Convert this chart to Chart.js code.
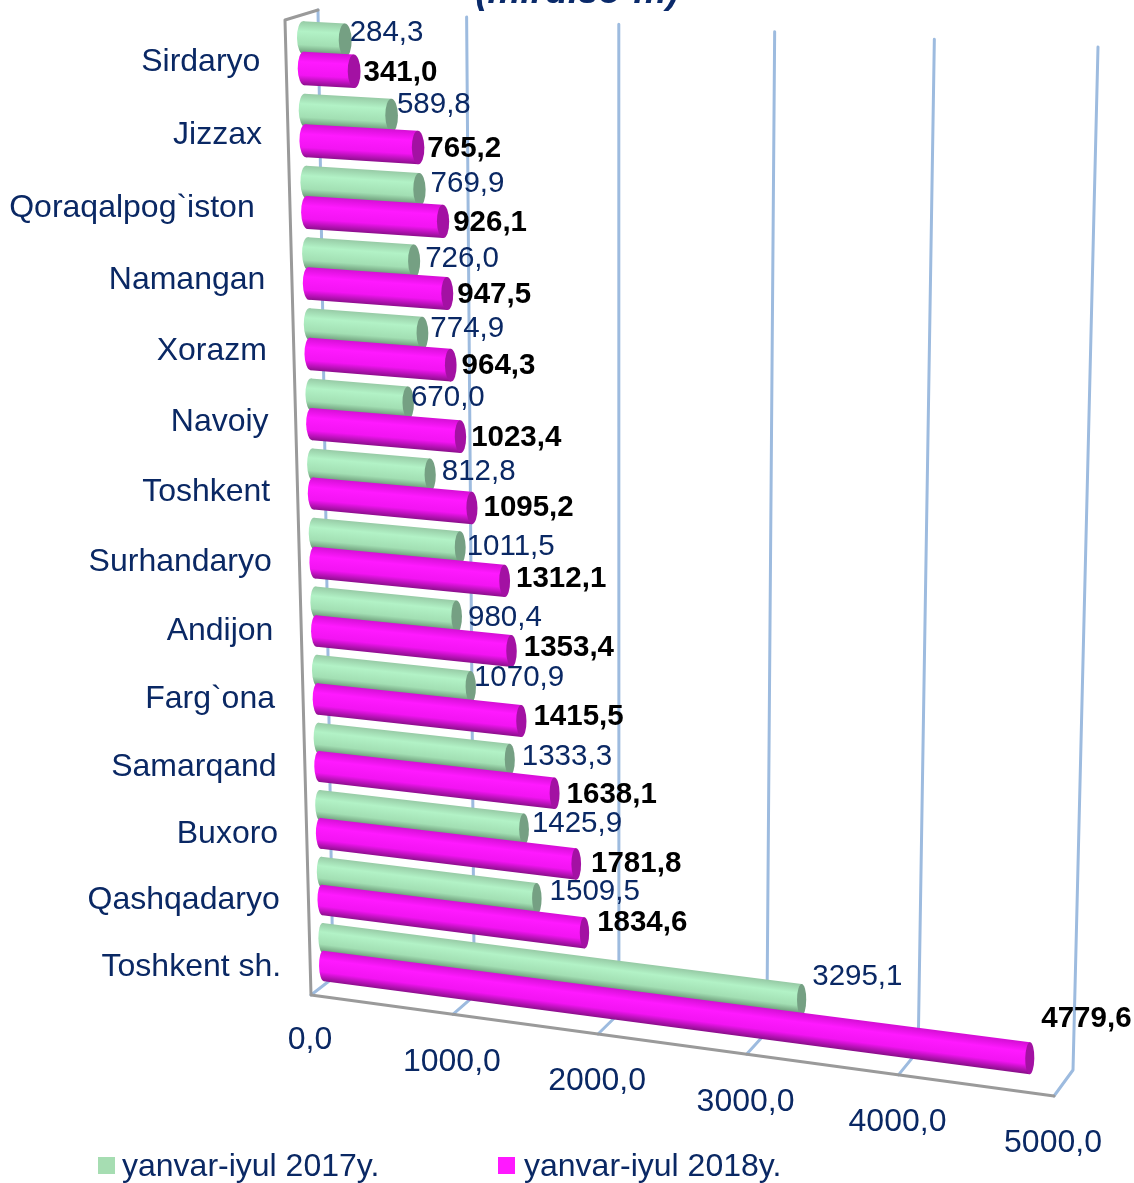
<!DOCTYPE html>
<html><head><meta charset="utf-8">
<style>html,body{margin:0;padding:0;background:#fff}canvas{display:block}</style>
<script src="https://cdn.jsdelivr.net/npm/chart.js@4"></script>
</head><body>
<canvas id="c" width="1134" height="1183"></canvas>
<script>
const categories = ["Sirdaryo","Jizzax","Qoraqalpog`iston","Namangan","Xorazm","Navoiy","Toshkent","Surhandaryo","Andijon","Farg`ona","Samarqand","Buxoro","Qashqadaryo","Toshkent sh."];
const values2017 = [284.3,589.8,769.9,726.0,774.9,670.0,812.8,1011.5,980.4,1070.9,1333.3,1425.9,1509.5,3295.1];
const values2018 = [341.0,765.2,926.1,947.5,964.3,1023.4,1095.2,1312.1,1353.4,1415.5,1638.1,1781.8,1834.6,4779.6];
const seriesNames = ["yanvar-iyul 2017y.","yanvar-iyul 2018y."];
const titleText = "(mlrd.so`m)";

/* layout only: perspective planes (unit square -> screen quad: TL, TR, BR, BL) */
const barPlane  = [[303,17],[1084,56],[1064,1083],[324,985]];
const wallPlane = [[318,10],[1098,47],[1073,1070],[333,978]];
const frontLeft = [311,995], frontRight = [1054,1096];
/* layout only: small hand placement of text next to each bar end */
const nudge2017 = [[-3,1],[-2,-3],[4,2],[4,6],[1,4],[-4,3],[5,5],[0,7],[5,9],[-3,-1],[6,5],[2,3],[7,1],[5,-15]];
const nudge2018 = [[-2,-1],[-2,-2],[-1,-2],[-1,-2],[0,-2],[0,-2],[1,-3],[1,-5],[2,-6],[2,-7],[2,-1],[5,-3],[3,-13],[2,-42]];
const categoryNudge = {2:-9};

const NAVY = "#0A2864", GRID = "#9DBBDF", FRAME = "#9A9A9A";
const FONT = '"Liberation Sans", Arial, sans-serif';
const gradGreen = [[0,"#97cba6"],[.3,"#b2f2c6"],[.7,"#a2dfb3"],[1,"#5f8b6b"]];
const gradPink  = [[0,"#d60fd6"],[.3,"#ff19ff"],[.7,"#f214f2"],[1,"#8c0f8c"]];
const capColors = ["#75a083","#a311a3"];

function homography(q){
  const [[x0,y0],[x1,y1],[x2,y2],[x3,y3]] = q;
  const dx1=x1-x2,dx2=x3-x2,dx3=x0-x1+x2-x3,dy1=y1-y2,dy2=y3-y2,dy3=y0-y1+y2-y3;
  const den=dx1*dy2-dx2*dy1, g=(dx3*dy2-dx2*dy3)/den, h=(dx1*dy3-dx3*dy1)/den;
  const a=x1-x0+g*x1,b=x3-x0+h*x3,d=y1-y0+g*y1,e=y3-y0+h*y3;
  return (u,v)=>{const w=g*u+h*v+1;return [(a*u+b*v+x0)/w,(d*u+e*v+y0)/w];};
}
const HB=homography(barPlane),HW=homography(wallPlane);
const fmt=v=>v.toFixed(1).replace(".",",");
function frontPoint(u){
  const q=HW(u,1),s=(q[0]-wallPlane[3][0])/(wallPlane[2][0]-wallPlane[3][0]);
  return [frontLeft[0]+s*(frontRight[0]-frontLeft[0]),frontLeft[1]+s*(frontRight[1]-frontLeft[1])];
}

function drawCylinder(ctx,chart,bar,grad,cap){
  const A=chart.chartArea, U=x=>(x-A.left)/A.width, V=y=>(y-A.top)/A.height;
  const y0=bar.y-bar.height/2,y1=bar.y+bar.height/2;
  const a=HB(U(bar.base),V(y0)),b=HB(U(bar.x),V(y0)),c=HB(U(bar.x),V(y1)),d=HB(U(bar.base),V(y1));
  const sm=[(a[0]+d[0])/2,(a[1]+d[1])/2],em=[(b[0]+c[0])/2,(b[1]+c[1])/2];
  const r=Math.hypot(c[0]-b[0],c[1]-b[1])/2, rs=Math.hypot(d[0]-a[0],d[1]-a[1])/2;
  const ang=Math.atan2(c[1]-b[1],c[0]-b[0]), angS=Math.atan2(d[1]-a[1],d[0]-a[0]);
  const capW=6.5-2*V(bar.y);
  const ax=em[0]-sm[0],ay=em[1]-sm[1],L=Math.hypot(ax,ay),nx=-ay/L,ny=ax/L;
  const g=ctx.createLinearGradient(sm[0]-nx*rs,sm[1]-ny*rs,sm[0]+nx*rs,sm[1]+ny*rs);
  grad.forEach(s=>g.addColorStop(s[0],s[1]));
  ctx.fillStyle=g;
  ctx.beginPath();ctx.ellipse(sm[0],sm[1],rs,capW,angS,0,Math.PI*2);ctx.fill();
  ctx.beginPath();ctx.moveTo(...a);ctx.lineTo(...b);ctx.lineTo(...c);ctx.lineTo(...d);ctx.closePath();ctx.fill();
  ctx.fillStyle=cap;
  ctx.beginPath();ctx.ellipse(em[0],em[1],r,capW,ang,0,Math.PI*2);ctx.fill();
  return {tip:[em[0]+capW,em[1]]};
}

const perspective={
  id:"perspective",
  beforeDatasetDraw(){return false;},
  beforeDatasetsDraw(chart){
    const ctx=chart.ctx,A=chart.chartArea,sx=chart.scales.x;
    ctx.save();ctx.lineCap="round";ctx.lineJoin="round";
    ctx.strokeStyle=GRID;ctx.lineWidth=3;
    sx.ticks.forEach(t=>{
      const u=(sx.getPixelForValue(t.value)-A.left)/A.width;
      const p=HW(u,0),q=HW(u,1),f=frontPoint(u);
      ctx.beginPath();ctx.moveTo(...p);ctx.lineTo(...q);ctx.lineTo(...f);ctx.stroke();
    });
    ctx.strokeStyle=FRAME;ctx.lineWidth=3;
    ctx.beginPath();ctx.moveTo(318,10);ctx.lineTo(285,20);ctx.lineTo(...frontLeft);ctx.lineTo(...frontRight);ctx.stroke();
    const m0=chart.getDatasetMeta(0).data,m1=chart.getDatasetMeta(1).data;
    chart._tips=[[],[]];
    categories.forEach((c,i)=>{
      chart._tips[0][i]=drawCylinder(ctx,chart,m0[i],gradGreen,capColors[0]).tip;
      chart._tips[1][i]=drawCylinder(ctx,chart,m1[i],gradPink,capColors[1]).tip;
    });
    ctx.restore();
  },
  afterDatasetsDraw(chart){
    const ctx=chart.ctx,A=chart.chartArea,sx=chart.scales.x,sy=chart.scales.y;
    ctx.save();ctx.textBaseline="middle";
    ctx.font="32px "+FONT;ctx.fillStyle=NAVY;ctx.textAlign="right";
    categories.forEach((c,i)=>{
      const v=(sy.getPixelForValue(i)-A.top)/A.height,p=HB(0,v);
      ctx.fillText(c,p[0]-43.5+1.5*v+(categoryNudge[i]||0),p[1]+8+6.5*v+2.5*Math.sin(Math.PI*v));
    });
    ctx.textAlign="left";
    ctx.font="29.5px "+FONT;ctx.fillStyle=NAVY;
    values2017.forEach((v,i)=>{const t=chart._tips[0][i],n=nudge2017[i];ctx.fillText(fmt(v),t[0]+1+n[0],t[1]-8+n[1]);});
    ctx.font="bold 29.5px "+FONT;ctx.fillStyle="#000";
    values2018.forEach((v,i)=>{const t=chart._tips[1][i],n=nudge2018[i];ctx.fillText(fmt(v),t[0]+5+n[0],t[1]+3+n[1]);});
    ctx.font="32px "+FONT;ctx.fillStyle=NAVY;ctx.textAlign="center";
    sx.ticks.forEach(t=>{
      const f=frontPoint((sx.getPixelForValue(t.value)-A.left)/A.width);
      ctx.fillText(fmt(t.value),f[0]-1,f[1]+(t.value===0?45:47.5));
    });
    ctx.textAlign="left";
    [[98,122],[498,524]].forEach((x,k)=>{
      ctx.fillStyle=chart.data.datasets[k].backgroundColor;ctx.fillRect(x[0],1157,17,17);
      ctx.fillStyle=NAVY;ctx.fillText(seriesNames[k],x[1],1167);
    });
    ctx.font="italic bold 37px "+FONT;ctx.textAlign="center";ctx.textBaseline="alphabetic";
    ctx.fillStyle="#0A2A6A";ctx.fillText(titleText,577,3);
    ctx.restore();
  }
};

new Chart(document.getElementById("c"),{
  type:"bar",
  data:{labels:categories,datasets:[
    {label:seriesNames[0],data:values2017,backgroundColor:"#A6DDB2"},
    {label:seriesNames[1],data:values2018,backgroundColor:"#FF19FF"}]},
  options:{
    indexAxis:"y",responsive:false,animation:false,
    layout:{padding:0},
    categoryPercentage:.84,barPercentage:1.1,
    plugins:{legend:{display:false},title:{display:false},tooltip:{enabled:false}},
    scales:{
      x:{display:false,min:0,max:5000,ticks:{stepSize:1000}},
      y:{display:false}
    }
  },
  plugins:[perspective]
});
</script>
</body></html>
